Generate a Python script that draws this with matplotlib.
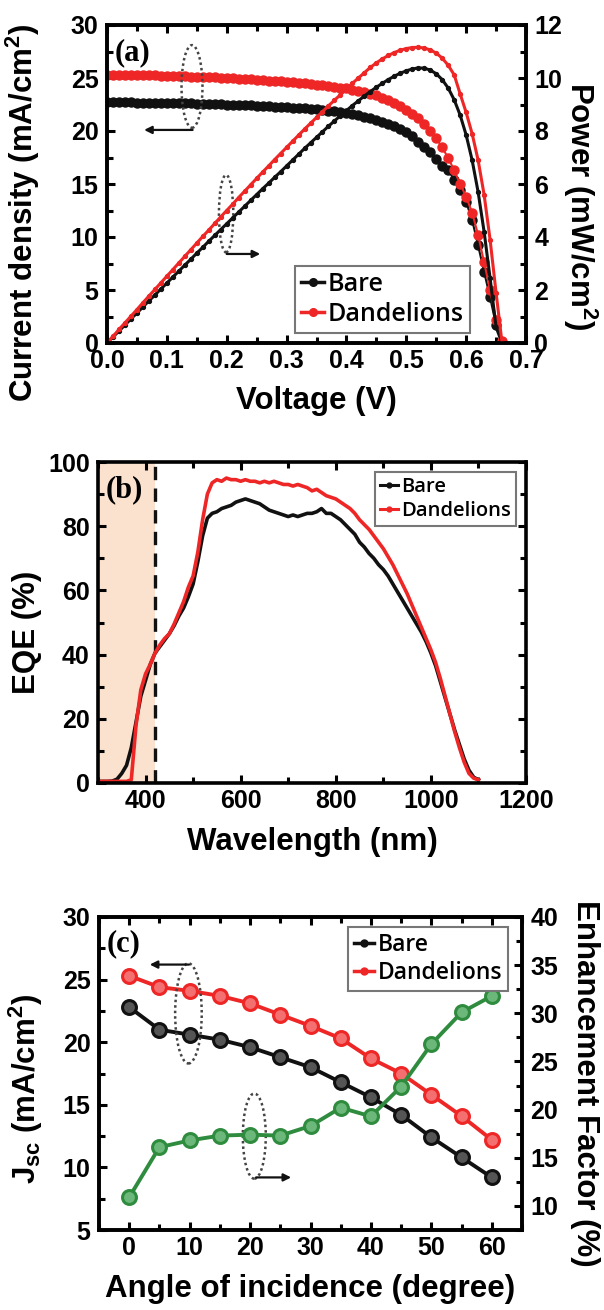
"""Solar cell figure: J-V / power curves, EQE spectra and angle dependence of Jsc."""

import matplotlib.pyplot as plt
import numpy as np
from matplotlib.lines import Line2D
from matplotlib.patches import Ellipse
from matplotlib.ticker import MultipleLocator

plt.rcParams["font.family"] = ["Liberation Sans", "DejaVu Sans"]
plt.rcParams["font.weight"] = "bold"
plt.rcParams["axes.labelweight"] = "bold"
plt.rcParams["mathtext.fontset"] = "custom"
plt.rcParams["mathtext.rm"] = "Liberation Sans:bold"
plt.rcParams["mathtext.it"] = "Liberation Sans:bold"
plt.rcParams["mathtext.bf"] = "Liberation Sans:bold"
plt.rcParams["mathtext.default"] = "regular"

BLACK = "#111111"
RED = "#ee2626"
GREEN = "#2f8c3f"
LEGEND_FONT = "Open Sans"
TICK_SIZE = 18
LABEL_SIZE = 22.5

# ---- (a) J-V sweep, 10 mV steps ----
voltage = np.linspace(0.0, 0.66, 67)

j_bare = [
    22.70, 22.70, 22.70, 22.69, 22.69, 22.68, 22.68, 22.67, 22.66, 22.65,
    22.64, 22.63, 22.62, 22.61, 22.60, 22.59, 22.57, 22.56, 22.54, 22.52,
    22.50, 22.48, 22.46, 22.44, 22.42, 22.40, 22.37, 22.34, 22.31, 22.28,
    22.25, 22.21, 22.17, 22.13, 22.09, 22.04, 21.98, 21.92, 21.85, 21.77,
    21.68, 21.58, 21.47, 21.34, 21.20, 21.05, 20.87, 20.67, 20.44, 20.18,
    19.90, 19.50, 19.00, 18.50, 18.00, 17.40, 16.70, 16.30, 15.40, 14.40,
    13.30, 11.60, 9.20, 6.70, 4.30, 1.70, 0.00,
]
j_dandelions = [
    25.30, 25.30, 25.29, 25.29, 25.28, 25.27, 25.26, 25.25, 25.24, 25.23,
    25.22, 25.20, 25.18, 25.16, 25.14, 25.12, 25.10, 25.08, 25.05, 25.02,
    24.99, 24.96, 24.93, 24.90, 24.87, 24.84, 24.80, 24.76, 24.72, 24.68,
    24.64, 24.59, 24.54, 24.49, 24.44, 24.38, 24.32, 24.25, 24.18, 24.10,
    24.01, 23.91, 23.80, 23.67, 23.52, 23.35, 23.15, 22.92, 22.66, 22.36,
    22.02, 21.63, 21.18, 20.65, 20.03, 19.30, 18.45, 17.45, 16.30, 15.00,
    13.80, 12.30, 10.20, 7.60, 5.00, 2.20, 0.20,
]
p_bare = [
    0.00, 0.23, 0.45, 0.68, 0.91, 1.13, 1.36, 1.59, 1.81, 2.04,
    2.26, 2.49, 2.71, 2.94, 3.16, 3.39, 3.61, 3.84, 4.06, 4.28,
    4.50, 4.72, 4.94, 5.16, 5.38, 5.60, 5.82, 6.03, 6.25, 6.46,
    6.68, 6.90, 7.12, 7.34, 7.55, 7.76, 7.97, 8.18, 8.38, 8.58,
    8.77, 8.96, 9.14, 9.32, 9.49, 9.65, 9.80, 9.94, 10.07, 10.18,
    10.27, 10.34, 10.38, 10.37, 10.30, 10.16, 9.94, 9.62, 9.18, 8.60,
    7.85, 6.90, 5.70, 4.20, 2.45, 0.60, 0.00,
]
p_dandelions = [
    0.00, 0.25, 0.51, 0.76, 1.01, 1.26, 1.52, 1.77, 2.02, 2.27,
    2.52, 2.77, 3.02, 3.27, 3.52, 3.77, 4.02, 4.26, 4.51, 4.76,
    5.00, 5.24, 5.49, 5.73, 5.97, 6.21, 6.45, 6.68, 6.92, 7.15,
    7.38, 7.61, 7.84, 8.07, 8.29, 8.51, 8.73, 8.95, 9.16, 9.37,
    9.57, 9.80, 10.00, 10.20, 10.40, 10.57, 10.72, 10.85, 10.96, 11.05,
    11.11, 11.15, 11.16, 11.13, 11.06, 10.94, 10.75, 10.48, 10.12, 9.40,
    8.70, 7.90, 6.90, 5.60, 3.90, 1.90, 0.00,
]

# ---- (b) external quantum efficiency, 10 nm steps ----
wavelength = np.arange(300, 1101, 10)

eqe_bare = [
    0.5, 0.5, 0.5, 0.6, 1.2, 3.0, 5.5, 11.0, 19.0, 27.0,
    32.0, 37.0, 40.5, 42.5, 44.5, 46.5, 49.0, 52.0, 54.5, 58.0,
    62.0, 69.0, 77.0, 82.5, 84.0, 84.5, 85.5, 86.0, 86.5, 87.5,
    88.0, 88.5, 88.0, 87.5, 87.0, 86.0, 85.0, 84.5, 84.0, 83.5,
    83.0, 83.5, 83.0, 83.5, 84.0, 84.0, 84.5, 85.5, 84.0, 84.0,
    83.0, 82.0, 80.5, 79.0, 77.5, 75.0, 73.5, 71.5, 70.0, 68.0,
    66.5, 64.5, 62.0, 59.5, 57.0, 54.5, 52.0, 49.5, 47.0, 44.0,
    40.5, 36.5, 31.5, 26.5, 21.5, 16.5, 12.0, 7.5, 4.0, 1.8,
    1.0,
]
eqe_dandelions = [
    0.5, 0.5, 0.5, 0.5, 0.5, 0.5, 0.5, 1.0, 18.0, 29.0,
    34.0, 37.0, 40.5, 43.0, 45.0, 46.5, 49.5, 53.0, 56.5, 61.0,
    64.5, 72.0, 82.0, 90.0, 93.5, 94.5, 94.0, 95.0, 94.5, 94.5,
    94.0, 94.5, 94.0, 94.0, 93.5, 94.0, 93.5, 94.0, 93.5, 93.0,
    93.0, 92.5, 93.0, 92.5, 92.0, 91.0, 91.5, 90.5, 89.5, 89.0,
    88.5, 87.5, 86.5, 85.5, 84.0, 82.0, 80.5, 79.0, 77.0, 75.0,
    73.0, 70.5, 68.0, 65.0, 62.0, 59.0, 55.5, 52.0, 48.5, 45.0,
    41.5, 37.5, 32.5, 27.0, 21.5, 16.0, 11.0, 6.5, 3.0, 1.5,
    1.0,
]
uv_edge = 420  # nm, edge of the shaded UV band

# ---- (c) angle of incidence ----
angle = [0, 5, 10, 15, 20, 25, 30, 35, 40, 45, 50, 55, 60]
jsc_bare = [22.8, 21.0, 20.6, 20.2, 19.6, 18.8, 18.0, 16.8, 15.6, 14.2, 12.4, 10.8, 9.2]
jsc_dandelions = [25.3, 24.4, 24.1, 23.7, 23.1, 22.2, 21.3, 20.3, 18.7, 17.5, 15.8, 14.1, 12.2]
enhancement = [10.9, 16.1, 16.8, 17.3, 17.4, 17.3, 18.3, 20.2, 19.3, 22.4, 26.8, 30.1, 31.8]

W, H = 604, 1310
fig = plt.figure(figsize=(W / 100, H / 100), dpi=100)


def frac(left, top, right, bottom):
    """Axes rectangle from pixel edges."""
    return [left / W, 1 - bottom / H, (right - left) / W, (bottom - top) / H]


def style_axis(ax, top=True, right=True):
    for sp in ax.spines.values():
        sp.set_linewidth(2.6)
    ax.tick_params(which="both", direction="in", width=2.2, labelsize=TICK_SIZE,
                   top=top, right=right)
    ax.tick_params(axis="x", pad=4)
    ax.tick_params(axis="y", pad=6)
    ax.tick_params(which="major", length=6)
    ax.tick_params(which="minor", length=4)


def legend(ax, handles, labels, size, anchor, loc):
    leg = ax.legend(handles, labels, loc=loc, bbox_to_anchor=anchor,
                    prop={"family": LEGEND_FONT, "weight": "semibold", "size": size},
                    handlelength=0.9, handletextpad=0.15, borderpad=0.25,
                    labelspacing=0.2, fancybox=False, framealpha=1,
                    edgecolor="#777777", borderaxespad=0)
    leg.get_frame().set_linewidth(1.5)
    return leg


def bracket(ax, center, width, height, tail, head):
    ax.add_patch(Ellipse(center, width, height, fill=False, ls=(0, (1, 1.2)),
                         lw=1.8, ec="#444444", zorder=5))
    ax.annotate("", xy=head, xytext=tail,
                arrowprops=dict(arrowstyle="-|>", color=BLACK, lw=1.6,
                                mutation_scale=11, shrinkA=0, shrinkB=0),
                zorder=5)


def panel_tag(ax, text):
    ax.text(0.018, 0.96, text, transform=ax.transAxes, va="top", ha="left",
            family="Liberation Serif", fontsize=22, weight="bold")


# ---------------- (a) ----------------
ax_a = fig.add_axes(frac(107, 25, 526, 343))
ax_p = ax_a.twinx()

ax_a.plot(voltage, j_bare, "-o", color=BLACK, ms=6.5, lw=1.5)
ax_a.plot(voltage, j_dandelions, "-o", color=RED, ms=6.5, lw=1.5)
ax_p.plot(voltage, p_bare, "-o", color=BLACK, ms=2.8, lw=2.2)
ax_p.plot(voltage, p_dandelions, "-o", color=RED, ms=2.8, lw=2.2)

ax_a.set_xlim(0, 0.7)
ax_a.set_ylim(0, 30)
ax_p.set_ylim(0, 12)
ax_a.xaxis.set_major_locator(MultipleLocator(0.1))
ax_a.xaxis.set_minor_locator(MultipleLocator(0.05))
ax_a.yaxis.set_major_locator(MultipleLocator(5))
ax_a.yaxis.set_minor_locator(MultipleLocator(2.5))
ax_p.yaxis.set_major_locator(MultipleLocator(2))
ax_p.yaxis.set_minor_locator(MultipleLocator(1))
ax_a.xaxis.set_major_formatter(lambda v, _: f"{v:.1f}")
style_axis(ax_a, top=True, right=False)
style_axis(ax_p, top=False, right=True)
ax_p.tick_params(left=False, which="both")

ax_a.set_xlabel("Voltage (V)", fontsize=LABEL_SIZE)
ax_a.set_ylabel("Current density (mA/cm$^2$)", fontsize=LABEL_SIZE)
ax_p.set_ylabel("Power (mW/cm$^2$)", fontsize=LABEL_SIZE, rotation=270)
ax_a.xaxis.set_label_coords(0.5, -0.135)
ax_a.yaxis.set_label_coords(-0.155, 0.41)
ax_p.yaxis.set_label_coords(1.176, 0.43)

panel_tag(ax_a, "(a)")
bracket(ax_a, (0.142, 24.2), 0.035, 7.8, (0.143, 20.1), (0.062, 20.1))
bracket(ax_a, (0.199, 12.2), 0.024, 7.3, (0.200, 8.4), (0.256, 8.4))

legend(ax_p,
       [Line2D([], [], color=BLACK, marker="o", ms=5.5, lw=2.5),
        Line2D([], [], color=RED, marker="o", ms=5.5, lw=2.5)],
       ["Bare", "Dandelions"], 18, (0.866, 0.031), "lower right")

# ---------------- (b) ----------------
ax_b = fig.add_axes(frac(98, 462, 526, 783))
ax_b.axvspan(300, uv_edge, color="#fbe2cf", lw=0, zorder=0)
ax_b.axvline(uv_edge, color=BLACK, ls=(0, (4, 2.5)), lw=2.4, zorder=1)
ax_b.plot(wavelength, eqe_bare, color=BLACK, lw=2.6, label="Bare")
ax_b.plot(wavelength, eqe_dandelions, color=RED, lw=2.6, label="Dandelions")

ax_b.set_xlim(300, 1200)
ax_b.set_ylim(0, 100)
ax_b.xaxis.set_major_locator(MultipleLocator(200))
ax_b.xaxis.set_minor_locator(MultipleLocator(100))
ax_b.yaxis.set_major_locator(MultipleLocator(20))
ax_b.yaxis.set_minor_locator(MultipleLocator(10))
style_axis(ax_b)
ax_b.set_xticks([400, 600, 800, 1000, 1200])
ax_b.set_xlabel("Wavelength (nm)", fontsize=LABEL_SIZE)
ax_b.set_ylabel("EQE (%)", fontsize=LABEL_SIZE)
ax_b.xaxis.set_label_coords(0.5, -0.137)
ax_b.yaxis.set_label_coords(-0.131, 0.47)
panel_tag(ax_b, "(b)")
legend(ax_b,
       [Line2D([], [], color=BLACK, marker="o", ms=3.5, lw=2.2),
        Line2D([], [], color=RED, marker="o", ms=3.5, lw=2.2)],
       ["Bare", "Dandelions"], 14.5, (0.977, 0.969), "upper right")

# ---------------- (c) ----------------
ax_c = fig.add_axes(frac(99, 917, 522, 1230))
ax_e = ax_c.twinx()
marker_kw = dict(marker="o", ms=10, mew=2.2, lw=2.8)
ax_c.plot(angle, jsc_bare, color=BLACK, mfc="#555555", mec=BLACK, **marker_kw)
ax_c.plot(angle, jsc_dandelions, color=RED, mfc="#f47070", mec=RED, **marker_kw)
ax_e.plot(angle, enhancement, color=GREEN, mfc="#6cb87a", mec=GREEN, **marker_kw)

ax_c.set_xlim(-5, 65)
ax_c.set_ylim(5, 30)
ax_e.set_ylim(7.5, 40)
ax_c.xaxis.set_major_locator(MultipleLocator(10))
ax_c.xaxis.set_minor_locator(MultipleLocator(5))
ax_c.yaxis.set_major_locator(MultipleLocator(5))
ax_c.yaxis.set_minor_locator(MultipleLocator(2.5))
ax_e.yaxis.set_major_locator(MultipleLocator(5))
ax_e.yaxis.set_minor_locator(MultipleLocator(2.5))
style_axis(ax_c, top=True, right=False)
style_axis(ax_e, top=False, right=True)
ax_e.tick_params(left=False, which="both")

ax_c.set_xlabel("Angle of incidence (degree)", fontsize=LABEL_SIZE)
ax_c.set_ylabel("J$_{sc}$ (mA/cm$^2$)", fontsize=LABEL_SIZE)
ax_e.set_ylabel("Enhancement Factor (%)", fontsize=LABEL_SIZE, rotation=270)
ax_c.xaxis.set_label_coords(0.5, -0.14)
ax_c.yaxis.set_label_coords(-0.128, 0.45)
ax_e.yaxis.set_label_coords(1.184, 0.47)
panel_tag(ax_c, "(c)")
bracket(ax_c, (9.8, 22.3), 4.4, 8.0, (9.9, 26.2), (3.4, 26.2))
bracket(ax_c, (20.7, 12.5), 3.8, 6.8, (21.0, 9.2), (26.8, 9.2))
legend(ax_e,
       [Line2D([], [], color=BLACK, marker="o", ms=5, lw=2.5),
        Line2D([], [], color=RED, marker="o", ms=5, lw=2.5)],
       ["Bare", "Dandelions"], 16.5, (0.967, 0.968), "upper right")

fig.savefig("out.png", dpi=100)
plt.close(fig)
